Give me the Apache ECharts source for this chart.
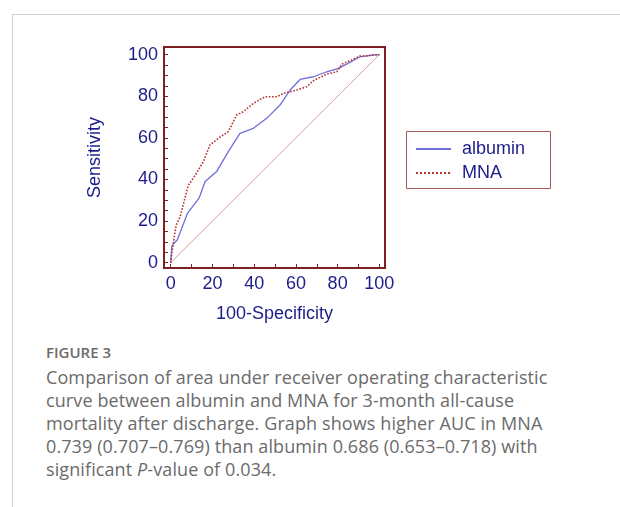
<!DOCTYPE html>
<html>
<head>
<meta charset="utf-8">
<script src="https://cdn.jsdelivr.net/npm/echarts@6/dist/echarts.min.js"></script>
<style>
  html, body { margin: 0; padding: 0; background: #fff; }
  #page { position: relative; width: 620px; height: 507px; overflow: hidden; }
  #frame { position: absolute; left: 12px; top: 14px; right: -2px; bottom: -2px;
           border-top: 1px solid #cfcfcf; border-left: 1px solid #cfcfcf; }
  #chart { position: absolute; left: 0; top: 0; width: 620px; height: 330px; }
  #caption { position: absolute; left: 46px; top: 341px; font-family: "Open Sans", sans-serif;
             color: #6b6b6b; white-space: nowrap; }
  #caption .fig { font-size: 15px; font-weight: 600; line-height: 22px; color: #6b6b6b; }
  #caption .txt { font-size: 18px; line-height: 23px; margin-top: 3px; letter-spacing: 0.1px; }
</style>
</head>
<body>
<div id="page">
  <div id="frame"></div>
  <div id="chart"></div>
  <div id="caption">
    <div class="fig">FIGURE 3</div>
    <div class="txt">Comparison of area under receiver operating characteristic<br>curve between albumin and MNA for 3-month all-cause<br>mortality after discharge. Graph shows higher AUC in MNA<br>0.739 (0.707&ndash;0.769) than albumin 0.686 (0.653&ndash;0.718) with<br>significant <i>P</i>-value of 0.034.</div>
  </div>
</div>
<script>
// ROC points: x = 100-Specificity, y = Sensitivity
const albuminX = [0, 0.5, 1.3, 3.2, 8, 13.6, 16.5, 22, 27.6, 33.2, 39.6, 46, 52.4, 57.2, 62, 68.4, 74.8, 80.4, 84.3, 90.7, 95.5, 100];
const albuminY = [0, 7.7, 9, 11, 23.7, 31, 39, 43.8, 53.4, 62.2, 64.6, 69.4, 75.8, 83, 88.1, 89.4, 91.8, 93.4, 95.5, 99, 99.7, 100];
const mnaX = [0, 1, 2.6, 4.5, 7, 8.5, 11.7, 15.7, 18.8, 22.8, 27.6, 31.6, 34.8, 39.6, 45.2, 50.8, 54, 60.4, 65.2, 68.4, 74.8, 79.6, 82, 86, 90.7, 94.7, 96.8, 100];
const mnaY = [0, 7.7, 18, 22, 31.7, 37.3, 42, 48.6, 56.6, 59.8, 63, 71, 72.6, 76.6, 79.8, 79.8, 81.4, 83, 84.6, 87.5, 90.7, 91.8, 95.5, 97.1, 99.4, 99.4, 100, 100];
const diagonal = [[0, 0], [100, 100]];
const tickLabels = [0, 20, 40, 60, 80, 100];
const yTicks = [0, 5, 10, 15, 20, 25, 30, 35, 40, 45, 50, 55, 60, 65, 70, 75, 80, 85, 90, 95, 100];
const xTicks = [0, 10, 20, 30, 40, 50, 60, 70, 80, 90, 100];

const zip = (xs, ys) => xs.map((x, i) => [x, ys[i]]);

const navy = '#1c1c8a';
const frameColor = '#7d1f1f';
const font = '"Liberation Sans", Arial, sans-serif';

const chart = echarts.init(document.getElementById('chart'));

const option = {
  animation: false,
  grid: {
    left: 164, top: 47, width: 221, height: 221,
    show: true, borderColor: frameColor, borderWidth: 2, backgroundColor: 'transparent'
  },
  xAxis: {
    type: 'value', min: -3.2, max: 102.7,
    name: '100-Specificity', nameLocation: 'middle', nameGap: 37,
    nameTextStyle: { color: navy, fontSize: 18, fontFamily: font },
    axisLine: { show: false, onZero: false },
    splitLine: { show: false },
    axisTick: { show: true, inside: true, length: 4, customValues: xTicks,
                lineStyle: { color: frameColor, width: 1 } },
    axisLabel: { customValues: tickLabels, color: navy, fontSize: 18, fontFamily: font, margin: 7 }
  },
  yAxis: {
    type: 'value', min: -2.55, max: 103.7,
    name: 'Sensitivity', nameLocation: 'middle', nameGap: 60, nameRotate: 90,
    nameTextStyle: { color: navy, fontSize: 18, fontFamily: font },
    axisLine: { show: false, onZero: false },
    splitLine: { show: false },
    axisTick: { show: true, inside: true, length: 4, customValues: yTicks,
                lineStyle: { color: frameColor, width: 1 } },
    axisLabel: { customValues: tickLabels, color: navy, fontSize: 18, fontFamily: font, margin: 6 }
  },
  legend: {
    left: 415, top: 140, orient: 'vertical', padding: 0,
    itemWidth: 35, itemHeight: 14, itemGap: 6,
    data: ['albumin', 'MNA'],
    itemStyle: { opacity: 0 },
    textStyle: { color: navy, fontSize: 18, fontFamily: font, padding: [0, 0, 0, 6] }
  },
  graphic: [{
    type: 'rect', left: 404, top: 129,
    shape: { width: 144, height: 57 },
    style: { fill: 'none', stroke: '#a45a5a', lineWidth: 1 }
  }],
  series: [
    {
      name: 'diagonal', type: 'line', data: diagonal, symbol: 'none', silent: true,
      lineStyle: { color: '#dd9c9c', width: 1 }
    },
    {
      name: 'albumin', type: 'line', data: zip(albuminX, albuminY), symbol: 'none',
      lineStyle: { color: '#6e6ed8', width: 1.3 }, itemStyle: { color: '#6e6ed8' }
    },
    {
      name: 'MNA', type: 'line', data: zip(mnaX, mnaY), symbol: 'none',
      lineStyle: { color: '#b23434', width: 1.6, type: 'dotted' }, itemStyle: { color: '#b23434' }
    }
  ]
};

chart.setOption(option);
</script>
</body>
</html>
